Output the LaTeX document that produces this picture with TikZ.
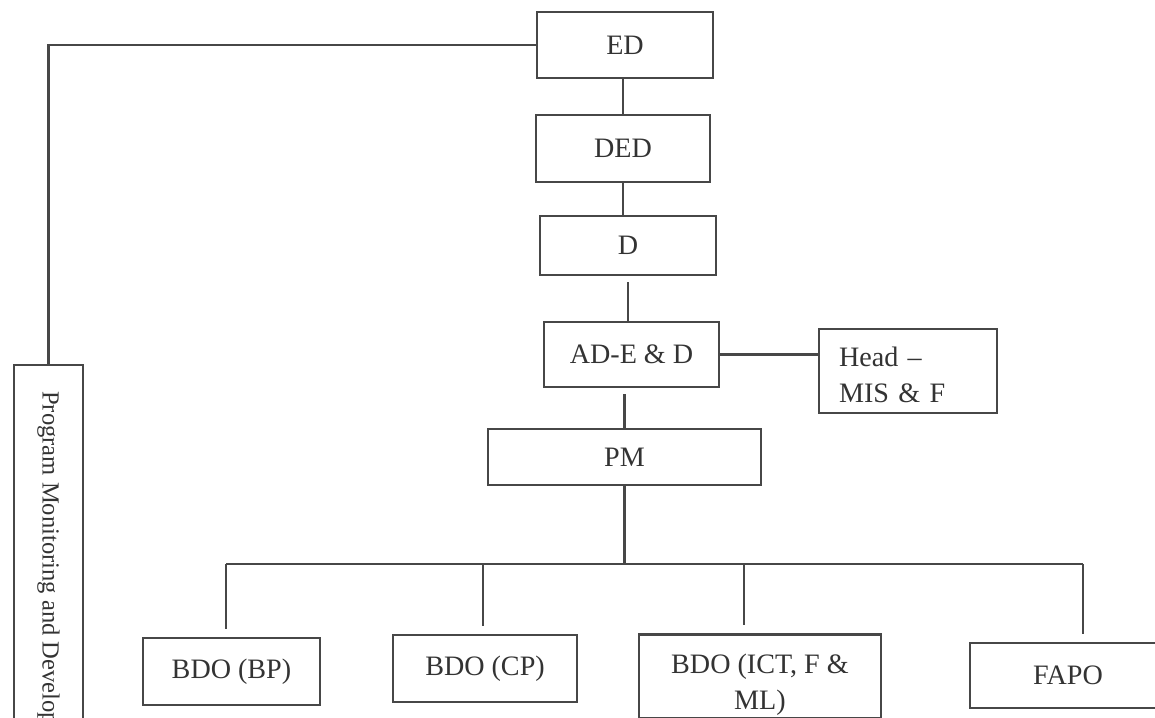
\documentclass[tikz,border=0pt]{standalone}
\usepackage{fontspec}
\setmainfont{Liberation Serif}
\usetikzlibrary{positioning}

\tikzset{
  post/.style={draw=black!72, line width=1.3pt, rectangle, inner sep=2pt,
    text=black!80, font=\fontsize{16}{20.5}\selectfont},
  link/.style={draw=black!72, line width=1.3pt}
}

\begin{document}
\begin{tikzpicture}
      \useasboundingbox[fill=white] (0,0) rectangle (23.1,14.34);

      % Main chain
      \node[post, minimum width=3.52cm, minimum height=1.32cm] (ed) at (12.5,13.44) {ED};
      \node[post, minimum width=3.48cm, minimum height=1.34cm] (ded) at (12.46,11.37) {DED};
      \node[post, minimum width=3.52cm, minimum height=1.18cm] (d) at (12.56,9.43) {D};
      \node[post, minimum width=3.5cm, minimum height=1.3cm] (ade) at (12.63,7.25) {AD-E \& D};
      \node[post, minimum width=3.56cm, minimum height=1.68cm, align=left, text width=2.76cm] (head) at (18.16,6.92) {\rule{0pt}{0.55cm}Head --\\MIS \& F};
      \node[post, minimum width=5.46cm, minimum height=1.12cm] (pm) at (12.49,5.2) {PM};

      % Side box
      \node[post, rotate=-90, anchor=west, minimum height=1.38cm, inner xsep=0.52cm,
        font=\fontsize{14}{17}\selectfont] (prog) at (0.97,7.06) {Program Monitoring and Development};

      % Bottom row
      \node[post, minimum width=3.54cm, minimum height=1.34cm] (bp) at (4.63,0.91) {BDO (BP)};
      \node[post, minimum width=3.68cm, minimum height=1.34cm] (cp) at (9.7,0.97) {BDO (CP)};
      \node[post, minimum width=4.84cm, minimum height=1.58cm, align=center] (ict) at (15.2,0.81) {\rule{0pt}{0.7cm}BDO (ICT, F \&\\ML)};
      \node[post, minimum width=3.92cm, minimum height=1.3cm] (fapo) at (21.36,0.83) {FAPO};

      % Connectors
      \draw[link] (ed.west) -| (prog.west);
      \draw[link] (ded.north) -- (ded.north |- ed.south);
      \draw[link] (ded.south) -- (ded.south |- d.north);
      \draw[link, shorten <=0.12cm] (d.south) -- (d.south |- ade.north);
      \draw[link, shorten <=0.12cm] (pm.north |- ade.south) -- (pm.north);
      \draw[link] (ade.east) -- (ade.east -| head.west);

      \coordinate (bus) at (12.4,3.06);
      \draw[link] (pm.south) -- (pm.south |- bus);
      \draw[link] ([xshift=-0.11cm]bus -| bp.north) -- ([xshift=0.3cm]bus -| fapo.north);
      \foreach \n/\dx in {bp/-0.11, cp/-0.04, ict/-0.32, fapo/0.3}
        \draw[link, shorten >=0.16cm] ([xshift=\dx cm]bus -| \n.north) -- ([xshift=\dx cm]\n.north);
\end{tikzpicture}
\end{document}
